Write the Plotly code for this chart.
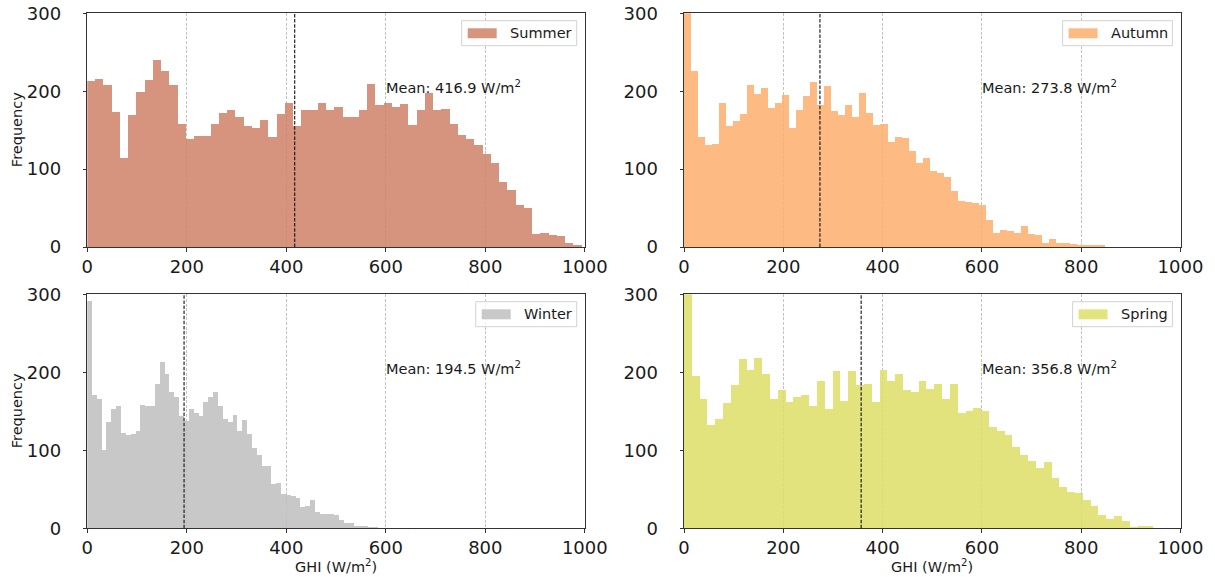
import numpy as np
import plotly.graph_objects as go

# ---------------- data ----------------
seasons = ["Summer", "Autumn", "Winter", "Spring"]
# drawn with 0.85 opacity (gives the reference tint on white, lets grid show through)
colors = ["rgb(207,130,104)", "rgb(253,175,110)", "rgb(191,191,191)", "rgb(221,223,103)"]

# upper edge of the 60-bin histogram range for each season (W/m2)
bin_max = [994, 848, 585, 945]
n_bins = 60

summer_counts = [213, 215, 208, 173, 114, 169, 198, 214, 240, 226,
                 207, 157, 138, 142, 142, 158, 172, 175, 166, 155,
                 153, 163, 141, 170, 185, 155, 175, 176, 185, 175,
                 179, 166, 166, 176, 209, 182, 185, 179, 183, 156,
                 176, 197, 176, 177, 158, 144, 138, 130, 119, 108,
                 83, 73, 53, 50, 16, 17, 15, 14, 5, 1]
autumn_counts = [400, 225, 141, 130, 132, 185, 155, 161, 170, 207,
                 196, 204, 178, 185, 195, 153, 176, 194, 211, 182,
                 206, 174, 169, 182, 167, 197, 172, 156, 157, 134,
                 141, 140, 123, 108, 114, 97, 94, 90, 72, 59,
                 57, 56, 53, 34, 17, 22, 20, 17, 26, 16,
                 15, 5, 10, 5, 5, 4, 1, 1, 1, 1]
winter_counts = [291, 170, 166, 100, 136, 152, 157, 122, 119, 120,
                 125, 158, 156, 156, 185, 213, 198, 175, 168, 144,
                 137, 153, 147, 144, 161, 168, 174, 157, 140, 136,
                 145, 125, 138, 121, 102, 94, 79, 79, 56, 58,
                 44, 42, 41, 38, 27, 28, 36, 20, 18, 18,
                 18, 17, 10, 7, 6, 2, 2, 3, 1, 1]
spring_counts = [340, 195, 166, 132, 140, 160, 183, 217, 203, 218,
                 198, 165, 177, 162, 168, 170, 157, 188, 152, 201,
                 163, 201, 183, 185, 162, 203, 189, 197, 177, 175,
                 189, 178, 185, 165, 185, 147, 150, 154, 150, 130,
                 125, 119, 104, 93, 86, 77, 84, 64, 53, 46,
                 45, 36, 28, 17, 11, 15, 9, 1, 3, 3]
counts = [summer_counts, autumn_counts, winter_counts, spring_counts]

means = [416.9, 273.8, 194.5, 356.8]

x_ticks = [0, 200, 400, 600, 800, 1000]
y_ticks = [0, 100, 200, 300]

# ---------------- layout geometry ----------------
W, H = 1215, 577
FONT = "DejaVu Sans"
TXT = "#1a1a1a"

x_domains = [[87.3 / W, 584.8 / W], [684.0 / W, 1180.5 / W]]
y_domains = [[1 - 247.0 / H, 1 - 13.3 / H], [1 - 528.3 / H, 1 - 294.3 / H]]
PW, PH = 497.5, 234.0            # panel size in px
legend_box_w = [115, 110, 101, 100]  # legend frame width (px), per panel

fig = go.Figure()
layout = dict(
    width=W, height=H,
    margin=dict(l=0, r=0, t=0, b=0),
    paper_bgcolor="white", plot_bgcolor="white",
    template="none",
    font=dict(family=FONT, color=TXT),
    bargap=0,
    showlegend=False,
)

shapes = []
annotations = []

for i, name in enumerate(seasons):
    row, col = divmod(i, 2)
    idx = "" if i == 0 else str(i + 1)
    xa, ya = "x" + idx, "y" + idx
    edges = np.linspace(0, bin_max[i], n_bins + 1)
    centers = (edges[:-1] + edges[1:]) / 2
    width = edges[1] - edges[0]

    fig.add_trace(go.Bar(
        x=centers, y=counts[i], width=width,
        marker=dict(color=colors[i], line=dict(width=0)),
        opacity=0.85,
        name=name, xaxis=xa, yaxis=ya,
        hoverinfo="x+y",
    ))

    layout["xaxis" + idx] = dict(
        domain=x_domains[col], anchor=ya, range=[0, 1000],
        tickvals=x_ticks, ticks="outside", ticklen=3.5, tickwidth=1,
        tickcolor="#333333", tickfont=dict(size=18, family=FONT, color=TXT),
        showline=True, mirror=True, linecolor="#333333", linewidth=1,
        showgrid=True, gridcolor="#c4c4c4", griddash="3px,1.6px", gridwidth=0.8,
        zeroline=False, automargin=False, ticklabelstandoff=0,
    )
    layout["yaxis" + idx] = dict(
        domain=y_domains[row], anchor=xa, range=[0, 300],
        tickvals=y_ticks, ticks="outside", ticklen=3.5, tickwidth=1,
        tickcolor="#333333", tickfont=dict(size=18, family=FONT, color=TXT),
        showline=True, mirror=True, linecolor="#333333", linewidth=1,
        showgrid=False, zeroline=False, automargin=False, ticklabelstandoff=18,
    )

    # mean line
    shapes.append(dict(
        type="line", xref=xa, yref=ya + " domain",
        x0=means[i], x1=means[i], y0=0, y1=1,
        line=dict(color="#111111", width=1.1, dash="3.5px,1.6px"),
        layer="above",
    ))
    annotations.append(dict(
        xref=xa, yref=ya, x=597, y=206, xanchor="left", yanchor="middle",
        text=f"Mean: {means[i]:.1f} W/m<sup>2</sup>", showarrow=False,
        font=dict(size=14.5, family=FONT, color=TXT),
    ))

    # legend (frame, colour patch, label) in the panel's domain coordinates
    xd, yd = xa + " domain", ya + " domain"
    right = 1 - 8.1 / PW
    left = right - legend_box_w[i] / PW
    shapes.append(dict(
        type="rect", xref=xd, yref=yd,
        x0=left, x1=right, y0=1 - 32.4 / PH, y1=1 - 7.4 / PH,
        line=dict(color="#d2d2d2", width=1), fillcolor="rgba(255,255,255,0.8)",
        layer="above",
    ))
    shapes.append(dict(
        type="rect", xref=xd, yref=yd,
        x0=left + 6 / PW, x1=left + 35 / PW, y0=1 - 25 / PH, y1=1 - 15 / PH,
        line=dict(width=0), fillcolor=colors[i], opacity=0.85,
        layer="above",
    ))
    annotations.append(dict(
        xref=xd, yref=yd, x=left + 46 / PW, y=1 - 20 / PH,
        xanchor="left", yanchor="middle", text=name, showarrow=False,
        font=dict(size=14.5, family=FONT, color=TXT),
    ))

# axis titles
for r in range(2):
    yc = (y_domains[r][0] + y_domains[r][1]) / 2
    annotations.append(dict(
        xref="paper", yref="paper", x=17 / W, y=yc, xanchor="center", yanchor="middle",
        text="Frequency", textangle=-90, showarrow=False,
        font=dict(size=14.5, family=FONT, color=TXT),
    ))
for c in range(2):
    xc = (x_domains[c][0] + x_domains[c][1]) / 2
    annotations.append(dict(
        xref="paper", yref="paper", x=xc, y=1 - 566 / H, xanchor="center", yanchor="middle",
        text="GHI (W/m<sup>2</sup>)", showarrow=False,
        font=dict(size=14.5, family=FONT, color=TXT),
    ))

layout["shapes"] = shapes
layout["annotations"] = annotations
fig.update_layout(**layout)

fig.write_html("out.html")
